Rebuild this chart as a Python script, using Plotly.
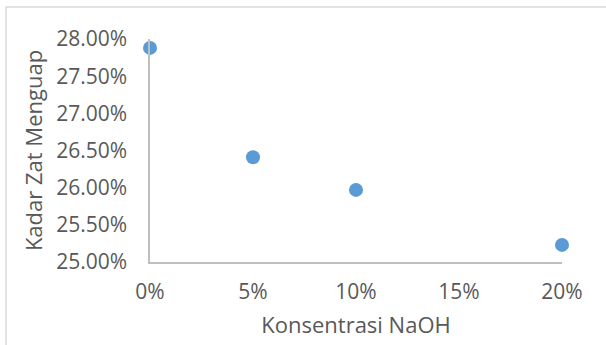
import plotly.graph_objects as go

konsentrasi = [0.0, 0.05, 0.10, 0.20]
kadar_zat_menguap = [0.2788, 0.2641, 0.2597, 0.2523]
x_ticks = [0.0, 0.05, 0.10, 0.15, 0.20]
y_ticks = [0.25, 0.255, 0.26, 0.265, 0.27, 0.275, 0.28]

font_family = "'Open Sans', sans-serif"
text_color = "#595959"

fig = go.Figure(
    go.Scatter(
        x=konsentrasi,
        y=kadar_zat_menguap,
        mode="markers",
        marker=dict(color="#5B9BD5", size=14),
        cliponaxis=False,
    )
)

fig.update_layout(
    width=606,
    height=345,
    margin=dict(l=150, r=44, t=39, b=83),
    paper_bgcolor="white",
    plot_bgcolor="white",
    showlegend=False,
    font=dict(family=font_family, color=text_color, size=16),
    shapes=[
        dict(
            type="rect", xref="paper", yref="paper",
            x0=-144 / 412, x1=1.2, y0=-0.5, y1=1 + 32 / 223,
            line=dict(color="#D9D9D9", width=1.5), fillcolor="rgba(0,0,0,0)",
            layer="below",
        )
    ],
)

fig.update_xaxes(
    range=[0, 0.2],
    tickvals=x_ticks,
    tickformat=".0%",
    showgrid=False,
    zeroline=False,
    showline=True,
    linecolor="#BFBFBF",
    linewidth=1.5,
    ticks="",
    automargin=False,
    ticklabelstandoff=10,
    tickfont=dict(size=21, color=text_color),
    title=dict(text="Konsentrasi NaOH", font=dict(size=22, color=text_color), standoff=14),
)
fig.update_yaxes(
    range=[0.25, 0.28],
    tickvals=y_ticks,
    tickformat=".2%",
    showgrid=False,
    zeroline=False,
    showline=True,
    linecolor="#BFBFBF",
    linewidth=1.5,
    ticks="",
    automargin=False,
    ticklabelstandoff=17,
    tickfont=dict(size=21, color=text_color),
    title=dict(text="Kadar Zat Menguap", font=dict(size=22, color=text_color), standoff=7),
)

fig.write_html(
    "out.html",
    config={"displayModeBar": False},
    post_script="document.body.style.margin='0';document.body.style.overflow='hidden';",
)
